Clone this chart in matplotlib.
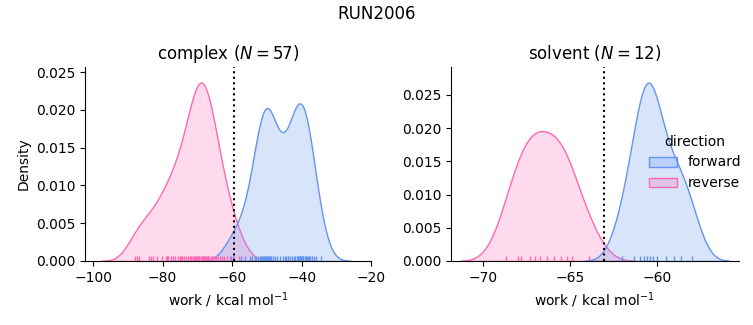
import numpy as np
import pandas as pd
import seaborn as sns
import matplotlib
matplotlib.use("Agg")
import matplotlib.pyplot as plt

# work values (kcal/mol)
complex_forward = [-60.4, -59.8, -57.5, -56.2, -55.0, -54.2, -53.5, -53.0, -52.5, -52.0,
                   -51.6, -51.4, -51.2, -50.9, -50.6, -50.3, -50.3, -50.1, -50.0, -49.7,
                   -49.4, -49.1, -49.0, -48.7, -48.2, -47.6, -47.0, -46.3, -45.5, -44.8,
                   -44.6, -44.0, -44.0, -43.3, -42.7, -42.2, -41.8, -41.4, -41.2, -41.0,
                   -40.7, -40.4, -40.1, -40.0, -39.8, -39.6, -39.5, -39.0, -38.9, -38.6,
                   -38.3, -37.9, -37.5, -37.0, -36.5, -35.8, -34.5]
complex_reverse = [-88.0, -87.3, -86.7, -84.0, -83.3, -82.8, -81.5, -80.2, -79.1, -78.8,
                   -78.4, -77.6, -77.1, -76.4, -75.7, -75.0, -74.8, -74.3, -73.8, -73.2,
                   -72.6, -72.1, -71.9, -71.7, -71.3, -70.9, -70.6, -70.3, -70.0, -69.9,
                   -69.7, -69.4, -69.1, -68.9, -68.8, -68.5, -68.2, -68.0, -67.9, -67.6,
                   -67.3, -67.0, -66.9, -66.6, -66.2, -65.8, -65.4, -65.0, -64.6, -64.1,
                   -63.6, -63.0, -62.3, -61.5, -60.6, -59.5, -58.0]
solvent_forward = [-62.0, -61.3, -61.0, -60.75, -60.55, -60.4, -60.25, -60.0, -59.5,
                   -59.0, -58.6, -58.0]
solvent_reverse = [-68.7, -68.0, -67.8, -67.3, -67.0, -66.7, -66.3, -65.9, -65.5,
                   -65.2, -64.9, -63.9]

# free energy estimates (dotted lines)
dg_complex = -59.4
dg_solvent = -63.05

rows = []
for phase, fwd, rev in [("complex", complex_forward, complex_reverse),
                        ("solvent", solvent_forward, solvent_reverse)]:
    for w in fwd:
        rows.append((phase, "forward", w))
    for w in rev:
        rows.append((phase, "reverse", w))
df = pd.DataFrame(rows, columns=["phase", "direction", "work"])

g = sns.displot(data=df, x="work", col="phase", hue="direction", kind="kde",
                fill=True, rug=True,
                palette={"forward": "cornflowerblue", "reverse": "hotpink"},
                facet_kws=dict(sharex=False, sharey=False))

fig = g.figure
fig.set_size_inches(7.53, 3.25)
fig.set_dpi(100)

ax1, ax2 = g.axes.flat
ax1.set_position([0.113, 0.197, 0.380, 0.597])
ax2.set_position([0.599, 0.197, 0.382, 0.597])

ax1.axvline(dg_complex, color="k", ls=":")
ax2.axvline(dg_solvent, color="k", ls=":")

ax1.set_xlim(-102.3, -20.0)
ax2.set_xlim(-71.84, -55.3)
ax1.set_ylim(0, 0.0257)
ax2.set_ylim(0, 0.0292)

ax1.set_title(f"complex ($N={len(complex_forward)}$)")
ax2.set_title(f"solvent ($N={len(solvent_forward)}$)")
ax1.set_xlabel("work / kcal mol$^{-1}$")
ax2.set_xlabel("work / kcal mol$^{-1}$")
ax1.set_ylabel("Density")
ax2.set_ylabel("")

sns.move_legend(g, "center left", bbox_to_anchor=(0.845, 0.5))
fig.suptitle("RUN2006", y=0.985)

fig.savefig("out.png", dpi=100)
